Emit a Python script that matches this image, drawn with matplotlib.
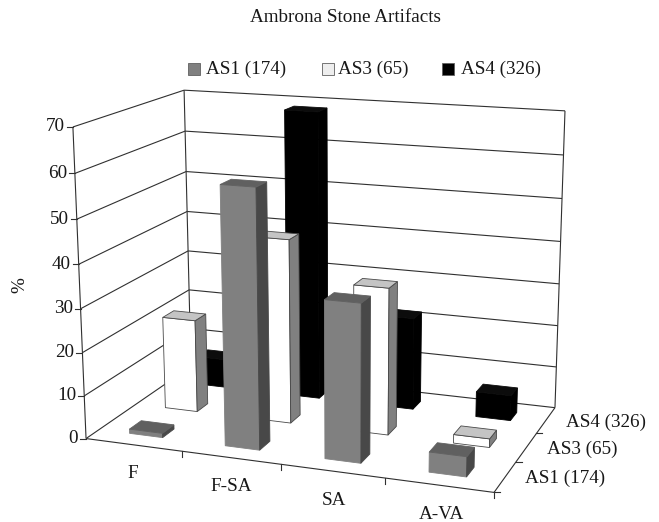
import numpy as np
import matplotlib
matplotlib.use("Agg")
import matplotlib.pyplot as plt
from matplotlib.patches import Polygon, Rectangle

plt.rcParams['font.family'] = ['Liberation Serif', 'DejaVu Serif']

categories = ["F", "F-SA", "SA", "A-VA"]
series_names = ["AS1 (174)", "AS3 (65)", "AS4 (326)"]
as1_values = [1, 58.5, 35.5, 4.5]
as3_values = [22, 43, 34, 2]
as4_values = [7, 68.7, 22, 6]
z_ticks = [0, 10, 20, 30, 40, 50, 60, 70]

# front, side, top shades per series
shades = [("#808080", "#484848", "#606060"),
          ("#ffffff", "#808080", "#c4c4c4"),
          ("#000000", "#000000", "#0c0c0c")]
edges = ["none", "#484848", "none"]

# camera fitted to the box corners seen in the picture (x 0-4, y 0-3, z 0-70)
world = [(0, 0, 70), (0, 3, 70), (4, 3, 70), (0, 0, 0), (0, 3, 0), (4, 3, 0), (4, 0, 0)]
pixels = [(73, 127), (184, 90), (565, 111), (86, 438), (191, 367), (555, 407), (494, 493)]

rows = []
rhs = []
for (x, y, z), (u, v) in zip(world, pixels):
    rows.append([x, y, z, 1, 0, 0, 0, 0, -u * x, -u * y, -u * z])
    rows.append([0, 0, 0, 0, x, y, z, 1, -v * x, -v * y, -v * z])
    rhs += [u, v]
cam = np.linalg.lstsq(np.array(rows, float), np.array(rhs, float), rcond=None)[0]
cam = np.append(cam, 1).reshape(3, 4)


def project(x, y, z):
    p = cam @ np.array([x, y, z, 1.0])
    return p[0] / p[2], p[1] / p[2]


fig = plt.figure(figsize=(6.59, 5.22), dpi=100)
ax = fig.add_axes([0, 0, 1, 1])
ax.set_xlim(0, 659)
ax.set_ylim(522, 0)
ax.axis("off")

line_col = "#303030"
line_w = 0.8
text_col = "#181818"


def seg(a, b):
    pa, pb = project(*a), project(*b)
    ax.plot([pa[0], pb[0]], [pa[1], pb[1]], color=line_col, lw=line_w, solid_capstyle="butt")


# walls and gridlines
for z in z_ticks:
    seg((0, 0, z), (0, 3, z))
    seg((0, 3, z), (4, 3, z))
    px, py = project(0, 0, z)
    ax.plot([px - 6, px], [py, py], color=line_col, lw=line_w)
    ax.text(px - 8, py, str(z), ha="right", va="center", fontsize=13.8, color=text_col)
seg((0, 0, 0), (0, 0, 70))
seg((0, 3, 0), (0, 3, 70))
seg((4, 3, 0), (4, 3, 70))
seg((0, 0, 0), (4, 0, 0))
seg((4, 0, 0), (4, 3, 0))

# floor ticks
for i in range(1, 5):
    px, py = project(i, 0, 0)
    ax.plot([px, px], [py, py + 6], color=line_col, lw=line_w)
for j in range(0, 3):
    px, py = project(4, j, 0)
    ax.plot([px, px + 6], [py, py], color=line_col, lw=line_w)

bar_w = 0.35
bar_d = 0.32


def draw_bar(i, j, value, cols, edge):
    x0, x1 = i + 0.5 - bar_w / 2, i + 0.5 + bar_w / 2
    y0, y1 = j + 0.5 - bar_d / 2, j + 0.5 + bar_d / 2
    faces = [
        [(x0, y0, 0), (x1, y0, 0), (x1, y0, value), (x0, y0, value)],
        [(x1, y0, 0), (x1, y1, 0), (x1, y1, value), (x1, y0, value)],
        [(x0, y0, value), (x1, y0, value), (x1, y1, value), (x0, y1, value)],
    ]
    for face, col in zip(faces, cols):
        ax.add_patch(Polygon([project(*c) for c in face], closed=True, facecolor=col,
                             edgecolor=edge if edge != "none" else col, lw=0.6, zorder=3))


# back row first, left to right
for j, values in reversed(list(enumerate([as1_values, as3_values, as4_values]))):
    for i, value in enumerate(values):
        draw_bar(i, j, value, shades[j], edges[j])

# axis labels
for i, name in enumerate(categories):
    px, py = project(i + 0.5, 0, 0)
    ax.text(px - 1 + i, py + 29, name, ha="center", va="center", fontsize=13.8, color=text_col)
for j, name in enumerate(series_names):
    px, py = project(4, j + 0.5, 0)
    ax.text(px + 20, py + 2, name, ha="left", va="center", fontsize=13.8, color=text_col)

ax.text(346, 17, "Ambrona Stone Artifacts", ha="center", va="center", fontsize=13.8, color=text_col)
ax.text(20, 285, "%", rotation=90, ha="center", va="center", fontsize=13.8, color=text_col)

# legend
legend_x = [188, 322, 442]
legend_text_x = [206, 338, 461]
legend_cols = ["#808080", "#eeeeee", "#000000"]
for x, tx, col, name in zip(legend_x, legend_text_x, legend_cols, series_names):
    ax.add_patch(Rectangle((x, 63), 12, 12, facecolor=col, edgecolor="#606060", lw=0.6))
    ax.text(tx, 69, name, ha="left", va="center", fontsize=13.8, color=text_col)

fig.savefig("out.png", dpi=100)
